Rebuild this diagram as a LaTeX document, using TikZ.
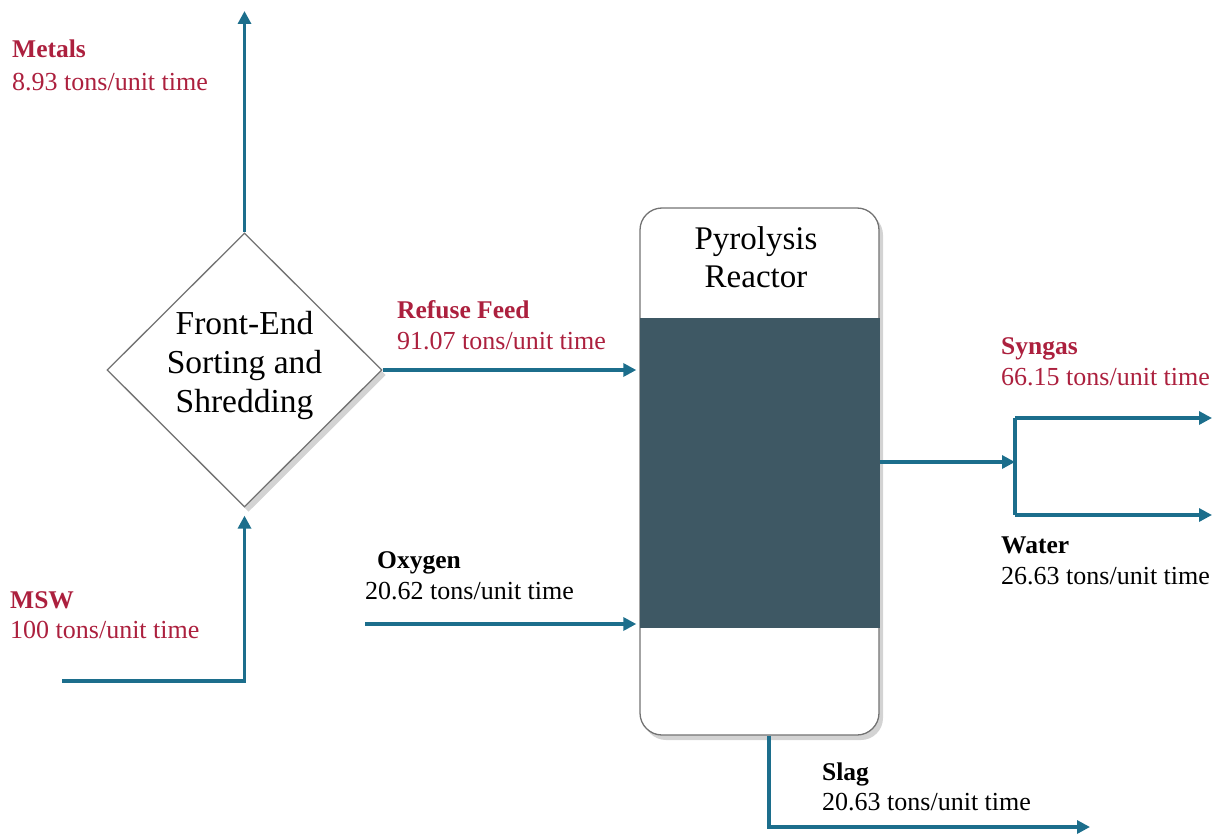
\documentclass[tikz,border=0pt]{standalone}
\usepackage{fontspec}
\setmainfont{Liberation Serif}
\newfontfamily\tms{Liberation Serif}
\usetikzlibrary{arrows.meta,shadows,shapes.geometric,calc}
\definecolor{flow}{RGB}{28,110,140}
\definecolor{lab}{RGB}{172,32,62}
\definecolor{core}{RGB}{62,88,100}
\definecolor{edgegray}{RGB}{115,115,115}
\begin{document}
\begin{tikzpicture}[x=1pt,y=-1pt,
  flowline/.style={draw=flow,line width=3.2pt,-{Triangle[length=13pt,width=13pt]}},
  plainline/.style={draw=flow,line width=3.2pt},
  lbl/.style={anchor=base west,inner sep=0pt,font=\tms\fontsize{26}{30}\selectfont},
  lblhead/.style={lbl,font=\tms\fontsize{25.5}{30}\selectfont\bfseries},
  soft/.style={drop shadow={opacity=0.35,shadow xshift=4pt,shadow yshift=-5pt}}]
\useasboundingbox (0,0) rectangle (1216,840);
% shapes
\node[diamond,draw=edgegray,line width=1.3pt,fill=white,soft,inner sep=0pt,
  minimum width=275pt,minimum height=274pt] (sort) at (244.5,370) {};
\node[align=center,font=\tms\fontsize{33.5}{39}\selectfont] (sorttext) at (244.5,365)
  {Front-End\\Sorting and\\Shredding};
\node[rectangle,rounded corners=22pt,draw=edgegray,line width=1.3pt,fill=white,soft,
  minimum width=239pt,minimum height=527pt] (reac) at (759.5,471.5) {};
\node[rectangle,fill=core,inner sep=0pt,minimum width=240pt,minimum height=310pt] (band) at (759.5,473) {};
\node[align=center,font=\tms\fontsize{33}{38}\selectfont] (reactext) at (756,257) {Pyrolysis\\Reactor};
% free ends
\coordinate (metalsEnd) at (244.5,11);
\coordinate (mswStart) at (62,681);
\coordinate (oxyStart) at (365,624);
\coordinate (split) at (1015,462);
\coordinate (synEnd) at (1212,418);
\coordinate (watEnd) at (1212,515);
\coordinate (slagEnd) at (1090,827);
% connectors
\draw[flowline] (sort.north) -- (metalsEnd);
\draw[flowline,shorten >=8pt] (mswStart) -| (sort.south);
\draw[flowline,shorten >=3pt] (sort.east) -- (sort.east -| band.west);
\draw[flowline,shorten >=3pt] (oxyStart) -- (oxyStart -| band.west);
\draw[flowline] (split -| reac.east) -- (split);
\draw[plainline] (split |- synEnd) -- (split |- watEnd);
\draw[flowline] (split |- synEnd) -- (synEnd);
\draw[flowline] (split |- watEnd) -- (watEnd);
\draw[flowline] ($(reac.south)+(9.5,0)$) |- (slagEnd);
% labels
\node[lblhead,text=lab] (metalsL) at (12,58) {Metals};
\node[lbl,text=lab] (metalsV) at (12,91) {8.93 tons/unit time};
\node[lblhead,text=lab] (mswL) at (10,608) {MSW};
\node[lbl,text=lab] (mswV) at (10,638) {100 tons/unit time};
\node[lblhead,text=lab] (refL) at (397,318) {Refuse Feed};
\node[lbl,text=lab] (refV) at (397,349) {91.07 tons/unit time};
\node[lblhead] (oxyL) at (377,568) {Oxygen};
\node[lbl] (oxyV) at (365,599) {20.62 tons/unit time};
\node[lblhead,text=lab] (synL) at (1001,354) {Syngas};
\node[lbl,text=lab] (synV) at (1001,385) {66.15 tons/unit time};
\node[lblhead] (watL) at (1001,553) {Water};
\node[lbl] (watV) at (1001,584) {26.63 tons/unit time};
\node[lblhead] (slagL) at (822,780) {Slag};
\node[lbl] (slagV) at (822,810) {20.63 tons/unit time};
\end{tikzpicture}
\end{document}
